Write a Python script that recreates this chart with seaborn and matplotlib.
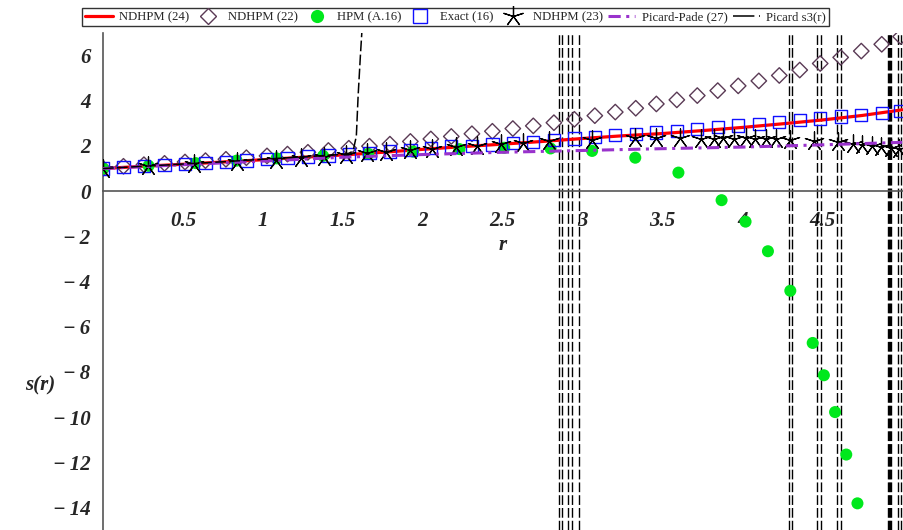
import numpy as np
import pandas as pd
import matplotlib
matplotlib.use('Agg')
import matplotlib.pyplot as plt
from matplotlib.lines import Line2D
import seaborn as sns

# --- Data ---
# Exact (16) and NDHPM (22) share one grid of 40 points on [0, 5]
r_grid = [0.000, 0.128, 0.256, 0.385, 0.513, 0.641, 0.769, 0.897, 1.026, 1.154,
          1.282, 1.410, 1.538, 1.667, 1.795, 1.923, 2.051, 2.179, 2.308, 2.436,
          2.564, 2.692, 2.821, 2.949, 3.077, 3.205, 3.333, 3.462, 3.590, 3.718,
          3.846, 3.974, 4.103, 4.231, 4.359, 4.487, 4.615, 4.744, 4.872, 4.990]
exact_16 = [1.00, 1.07, 1.12, 1.16, 1.20, 1.25, 1.30, 1.36, 1.41, 1.47,
            1.53, 1.58, 1.63, 1.70, 1.75, 1.82, 1.90, 1.97, 2.01, 2.07,
            2.14, 2.19, 2.27, 2.33, 2.40, 2.47, 2.54, 2.60, 2.67, 2.75,
            2.83, 2.90, 2.98, 3.06, 3.14, 3.22, 3.30, 3.37, 3.46, 3.54]
ndhpm_22 = [1.00, 1.10, 1.17, 1.23, 1.29, 1.35, 1.41, 1.48, 1.56, 1.64,
            1.72, 1.80, 1.90, 1.99, 2.08, 2.20, 2.31, 2.42, 2.54, 2.65,
            2.77, 2.89, 3.03, 3.18, 3.34, 3.50, 3.67, 3.86, 4.04, 4.23,
            4.45, 4.66, 4.88, 5.12, 5.36, 5.65, 5.92, 6.20, 6.50, 6.84]

# NDHPM (24), red solid line
r_24 = [0.0, 0.25, 0.5, 0.75, 1.0, 1.25, 1.5, 1.75, 2.0, 2.25, 2.5,
        2.75, 3.0, 3.25, 3.5, 3.75, 4.0, 4.25, 4.5, 4.75, 5.0]
ndhpm_24 = [1.0, 1.1, 1.19, 1.29, 1.39, 1.5, 1.6, 1.72, 1.85, 1.97, 2.08,
            2.2, 2.33, 2.45, 2.55, 2.68, 2.82, 2.98, 3.15, 3.35, 3.6]

# HPM (A.16), green dots
r_hpm = [0.0, 0.285, 0.58, 0.836, 1.086, 1.377, 1.66, 1.94, 2.23, 2.51, 2.80,
         3.06, 3.33, 3.60, 3.87, 4.02, 4.16, 4.30, 4.44, 4.51, 4.58, 4.65, 4.72]
hpm_a16 = [1.0, 1.12, 1.24, 1.35, 1.45, 1.56, 1.65, 1.75, 1.86, 1.92, 1.89,
           1.78, 1.48, 0.82, -0.40, -1.35, -2.66, -4.41, -6.72, -8.15, -9.78,
           -11.66, -13.82]

# NDHPM (23), black asterisks
r_23 = [0.0, 0.28, 0.57, 0.84, 1.08, 1.24, 1.38, 1.52, 1.65, 1.77, 1.92, 2.06,
        2.21, 2.34, 2.49, 2.63, 2.79, 3.06, 3.33, 3.46, 3.61, 3.74, 3.82, 3.88,
        3.95, 4.02, 4.08, 4.15, 4.21, 4.30, 4.45, 4.60, 4.69, 4.75, 4.81, 4.87,
        4.93, 4.98]
ndhpm_23 = [1.0, 1.1, 1.2, 1.3, 1.4, 1.47, 1.53, 1.6, 1.67, 1.74, 1.82, 1.88,
            1.95, 2.0, 2.07, 2.14, 2.2, 2.28, 2.33, 2.36, 2.36, 2.3, 2.3, 2.33,
            2.3, 2.33, 2.3, 2.32, 2.3, 2.28, 2.22, 2.18, 2.1, 2.05, 2.0, 1.95,
            1.9, 1.85]

# Picard-Pade (27), purple dash-dot
r_pade = [0.0, 0.5, 1.0, 1.5, 2.0, 2.5, 3.0, 3.5, 4.0, 4.5, 5.0]
pade_27 = [1.0, 1.17, 1.33, 1.5, 1.62, 1.72, 1.8, 1.88, 1.95, 2.05, 2.16]

# Picard s3(r), black long dash, blows up near r = 1.62
r_s3 = [0.0, 0.25, 0.5, 0.75, 1.0, 1.25, 1.4, 1.5, 1.54, 1.565, 1.585,
        1.596, 1.61, 1.62, 1.63]
picard_s3 = [1.0, 1.1, 1.2, 1.3, 1.41, 1.52, 1.58, 1.63, 1.68, 1.78, 2.44,
             4.2, 5.96, 7.1, 8.5]

# vertical asymptote lines of the Picard plot
poles = [2.852, 2.873, 2.908, 2.933, 2.977,
         4.289, 4.311, 4.467, 4.492, 4.591, 4.617,
         4.914, 4.920, 4.926, 4.932, 4.971, 4.992]

x_ticks = [0.5, 1, 1.5, 2, 2.5, 3, 3.5, 4, 4.5]
y_ticks = [-14, -12, -10, -8, -6, -4, -2, 0, 2, 4, 6]

# --- Style ---
sns.set_theme(style="white")
plt.rcParams['font.family'] = ['Liberation Serif', 'DejaVu Serif']

RED = '#ff0000'
DIAMOND = '#5a3a55'
GREEN = '#00e81c'
BLUE = '#1010ff'
PURPLE = '#9932cc'
LONGDASH = (7, 2.2)
DASHDOT = (4, 1.8, 1, 1.8)

fig = plt.figure(figsize=(9.04, 5.30), dpi=100)
ax = fig.add_axes([103 / 904, 0.0, 800 / 904, 497 / 530])

# poles first, so the markers sit on top
for p in poles:
    ax.axvline(p, color='black', lw=1.0, dashes=LONGDASH)

sns.lineplot(x=r_24, y=ndhpm_24, ax=ax, color=RED, lw=2.3,
             sort=False, estimator=None, zorder=3)
sns.scatterplot(x=r_grid, y=ndhpm_22, ax=ax, marker='D', s=62,
                facecolor='none', edgecolor=DIAMOND, linewidth=1.0, zorder=4)
sns.scatterplot(x=r_hpm, y=hpm_a16, ax=ax, marker='o', s=75,
                color=GREEN, edgecolor='none', zorder=4)
sns.scatterplot(x=r_grid, y=exact_16, ax=ax, marker='s', s=78,
                facecolor='none', edgecolor=BLUE, linewidth=1.0, zorder=5)
sns.scatterplot(x=r_23, y=ndhpm_23, ax=ax, marker=(5, 2, 0), s=190,
                color='black', linewidth=0.9, zorder=6)
sns.lineplot(x=r_pade, y=pade_27, ax=ax, color=PURPLE, lw=2.2,
             sort=False, estimator=None, zorder=6
             ).lines[-1].set_dashes(DASHDOT)
s3_line = sns.lineplot(x=r_s3, y=picard_s3, ax=ax, color='black', lw=1.1,
                       sort=False, estimator=None, zorder=7).lines[-1]
s3_line.set_dashes(LONGDASH)

# --- Axes through the origin, Maple look ---
ax.set_xlim(0, 5.005)
ax.set_ylim(-15, 7)
ax.spines['bottom'].set_position(('data', 0))
ax.spines['top'].set_visible(False)
ax.spines['right'].set_visible(False)
for side in ['left', 'bottom']:
    ax.spines[side].set_color('#555555')
    ax.spines[side].set_linewidth(1.2)

tick_font = dict(family='Liberation Serif', weight='bold', style='italic', size=15)
ax.set_xticks(x_ticks)
ax.set_xticklabels([f"{t:g}" for t in x_ticks], **tick_font)
ax.set_yticks(y_ticks)
ax.set_yticklabels([(f"\u2212\u2009{-t}" if t < 0 else f"{t}") for t in y_ticks],
                   **tick_font)
ax.tick_params(axis='both', direction='out', length=5, width=1.1, color='#555555')
ax.tick_params(axis='x', pad=9)
ax.tick_params(axis='y', pad=4)
ax.set_xlabel('')
ax.set_ylabel('')
fig.text(503 / 904, 1 - 245 / 530, 'r', ha='center', va='center', **tick_font)
fig.text(40 / 904, 1 - 385 / 530, 's(r)', ha='center', va='center', **tick_font)

# --- Legend on top ---
handles = [
    Line2D([], [], color=RED, lw=2.3),
    Line2D([], [], ls='none', marker='D', ms=8, mfc='none', mec=DIAMOND, mew=1.0),
    Line2D([], [], ls='none', marker='o', ms=9.5, mfc=GREEN, mec='none'),
    Line2D([], [], ls='none', marker='s', ms=9.5, mfc='none', mec=BLUE, mew=1.0),
    Line2D([], [], ls='none', marker=(5, 2, 0), ms=15, color='black', mew=0.9),
    Line2D([], [], color=PURPLE, lw=2.2, dashes=DASHDOT),
    Line2D([], [], color='black', lw=1.1, dashes=(14, 3)),
]
labels = ['NDHPM (24)', 'NDHPM (22)', 'HPM (A.16)', 'Exact (16)',
          'NDHPM (23)', 'Picard-Pade (27)', 'Picard s3(r)']
leg = fig.legend(handles, labels, loc='upper left', ncol=7,
                 bbox_to_anchor=(82 / 904, 1 - 8 / 530),
                 prop={'family': 'Liberation Serif', 'size': 9.2},
                 frameon=True, fancybox=False, edgecolor='black',
                 handlelength=2.15, handletextpad=0.5, columnspacing=0.4,
                 borderpad=0.25, borderaxespad=0)
leg.get_frame().set_linewidth(1.0)

fig.savefig('out.png', dpi=100)
